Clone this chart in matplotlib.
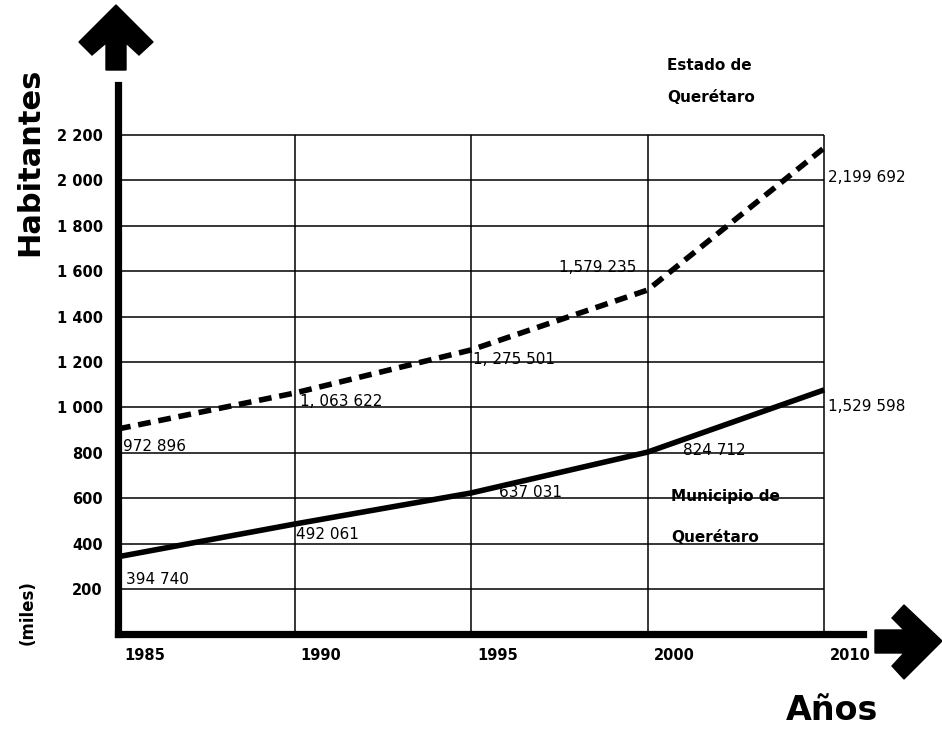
import numpy as np
import matplotlib.pyplot as plt
from matplotlib.patches import Polygon

# values as drawn on the chart (miles de habitantes)
years = ['1985', '1990', '1995', '2000', '2010']
estado = [905, 1063, 1253, 1517, 2143]
municipio = [342, 486, 623, 803, 1077]

# annotated census figures
estado_labels = ['972 896', '1, 063 622', '1, 275 501', '1,579 235', '2,199 692']
municipio_labels = ['394 740', '492 061', '637 031', '824 712', '1,529 598']

y_ticks = [200, 400, 600, 800, 1000, 1200, 1400, 1600, 1800, 2000, 2200]
y_tick_labels = ['200', '400', '600', '800', '1 000', '1 200', '1 400',
                 '1 600', '1 800', '2 000', '2 200']

W, H = 942, 730
fig = plt.figure(figsize=(W / 100, H / 100), dpi=100)
ax = fig.add_axes([118 / W, (H - 634.4) / H, 745 / W, (634.4 - 85) / H])
x = np.arange(len(years))
ax.set_xlim(0, 4.22)
ax.set_ylim(0, 2420)

# grid
ax.hlines(y_ticks, 0, x[-1], color='black', lw=1.1, zorder=1)
ax.vlines(x[1:], 0, y_ticks[-1], color='black', lw=1.1, zorder=1)

# axes
for s in ['top', 'right']:
    ax.spines[s].set_visible(False)
for s in ['left', 'bottom']:
    ax.spines[s].set_linewidth(5.2)
    ax.spines[s].set_capstyle('projecting')

ax.set_yticks(y_ticks, y_tick_labels)
ax.set_xticks([])
ax.tick_params(axis='y', length=0, pad=11, labelsize=10.5)
for lbl in ax.get_yticklabels():
    lbl.set_fontweight('bold')

for i, yr in enumerate(years):
    ax.text(x[i] + 0.035, -95, yr, ha='left', va='center', fontsize=10.5,
            fontweight='bold', clip_on=False)

# series
ax.plot(x, estado, color='black', lw=4.0, linestyle=(0, (2.3, 1.4)), zorder=3)
ax.plot(x, municipio, color='black', lw=4.0, solid_capstyle='butt', zorder=3)

# value annotations
estado_pos = [(0.03, 826), (1.03, 1025), (2.01, 1209), (2.50, 1614), (4.02, 2011)]
municipio_pos = [(0.045, 240), (1.01, 438), (2.16, 623), (3.20, 812), (4.02, 1002)]
for (px, py), t in zip(estado_pos, estado_labels):
    ax.text(px, py, t, ha='left', va='center', fontsize=11, clip_on=False, zorder=4)
for (px, py), t in zip(municipio_pos, municipio_labels):
    ax.text(px, py, t, ha='left', va='center', fontsize=11, clip_on=False, zorder=4)

# series names
fig.text(667 / W, 1 - 66 / H, 'Estado de', fontsize=11, fontweight='bold', va='center')
fig.text(667 / W, 1 - 97 / H, 'Querétaro', fontsize=11, fontweight='bold', va='center')
fig.text(671 / W, 1 - 496 / H, 'Municipio de', fontsize=11, fontweight='bold', va='center')
fig.text(671 / W, 1 - 537 / H, 'Querétaro', fontsize=11, fontweight='bold', va='center')

# axis titles
fig.text(30 / W, 1 - 162 / H, 'Habitantes', rotation=90, fontsize=22,
         fontweight='bold', ha='center', va='center')
fig.text(28 / W, 1 - 613 / H, '(miles)', rotation=90, fontsize=12,
         fontweight='bold', ha='center', va='center')
fig.text(832 / W, 1 - 710 / H, 'Años', fontsize=24, fontweight='bold',
         ha='center', va='center')


def fig_poly(pts):
    xy = [(px / W, 1 - py / H) for px, py in pts]
    fig.patches.append(Polygon(xy, closed=True, transform=fig.transFigure,
                               facecolor='black', edgecolor='black'))


# arrows
fig_poly([(116, 5), (153, 42), (139, 55), (126, 43), (126, 70), (106, 70),
          (106, 43), (92, 55), (79, 42)])
fig_poly([(942, 641), (904, 679), (892, 666), (904, 653), (875, 653), (875, 630),
          (904, 630), (892, 618), (904, 605)])

fig.savefig('out.png', dpi=100)
